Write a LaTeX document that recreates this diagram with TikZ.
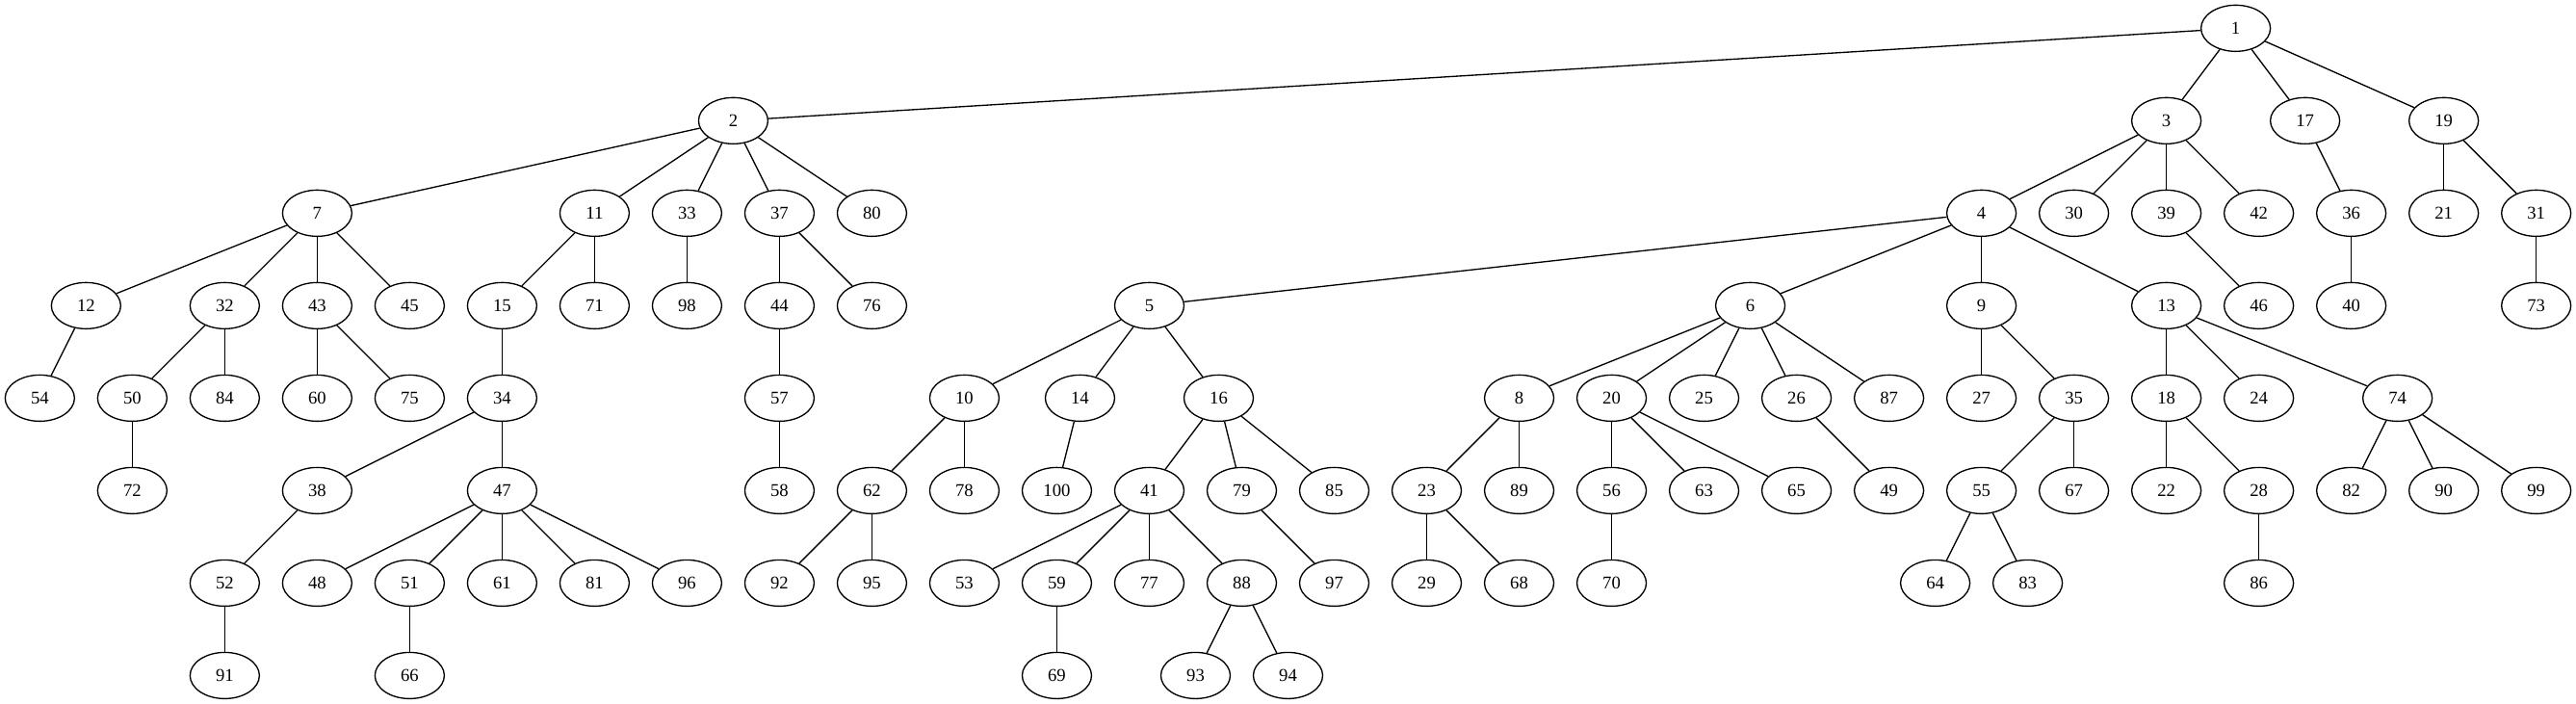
\documentclass[tikz,border=0pt]{standalone}
\usepackage{fontspec}
\setmainfont{Liberation Serif}
\usepackage{tikz}
\usetikzlibrary{arrows,shapes,positioning}
\usepackage{xcolor}
\definecolor{treeblack}{RGB}{0,0,0}
\tikzstyle{vertex} = [draw=treeblack, ellipse, line width=1bp, inner sep=0pt,
  minimum width=0.75in, minimum height=0.5in, font=\fontsize{14bp}{16bp}\selectfont]
\tikzstyle{edge} = [line width=1bp, color=treeblack]

\begin{document}
\begin{tikzpicture}[x=1in, y=1in]
\useasboundingbox (-0.4306,0.3056) rectangle (27.4306,-7.3056);

% vertices: label / column / rank
\foreach \n/\c/\r in {1/23.75/0,
  2/7.5/1, 3/23/1, 17/24.5/1, 19/26/1,
  7/3/2, 11/6/2, 33/7/2, 37/8/2, 80/9/2, 4/21/2, 30/22/2, 39/23/2, 42/24/2, 36/25/2, 21/26/2, 31/27/2,
  12/0.5/3, 32/2/3, 43/3/3, 45/4/3, 15/5/3, 71/6/3, 98/7/3, 44/8/3, 76/9/3, 5/12/3, 6/18.5/3, 9/21/3, 13/23/3, 46/24/3, 40/25/3, 73/27/3,
  54/0/4, 50/1/4, 84/2/4, 60/3/4, 75/4/4, 34/5/4, 57/8/4, 10/10/4, 14/11.25/4, 16/12.75/4, 8/16/4, 20/17/4, 25/18/4, 26/19/4, 87/20/4, 27/21/4, 35/22/4, 18/23/4, 24/24/4, 74/25.5/4,
  72/1/5, 38/3/5, 47/5/5, 58/8/5, 62/9/5, 78/10/5, 100/11/5, 41/12/5, 79/13/5, 85/14/5, 23/15/5, 89/16/5, 56/17/5, 63/18/5, 65/19/5, 49/20/5, 55/21/5, 67/22/5, 22/23/5, 28/24/5, 82/25/5, 90/26/5, 99/27/5,
  52/2/6, 48/3/6, 51/4/6, 61/5/6, 81/6/6, 96/7/6, 92/8/6, 95/9/6, 53/10/6, 59/11/6, 77/12/6, 88/13/6, 97/14/6, 29/15/6, 68/16/6, 70/17/6, 64/20.5/6, 83/21.5/6, 86/24/6,
  91/2/7, 66/4/7, 69/11/7, 93/12.5/7, 94/13.5/7}
  \node[vertex] (v\n) at (\c,-\r) {\n};

% edges: parent / child
\foreach \a/\b in {1/2, 1/3, 1/17, 1/19,
  2/7, 2/11, 2/33, 2/37, 2/80, 3/4, 3/30, 3/39, 3/42, 17/36, 19/21, 19/31,
  7/12, 7/32, 7/43, 7/45, 11/15, 11/71, 33/98, 37/44, 37/76,
  4/5, 4/6, 4/9, 4/13, 39/46, 36/40, 31/73,
  12/54, 32/50, 32/84, 43/60, 43/75, 15/34, 44/57,
  5/10, 5/14, 5/16, 6/8, 6/20, 6/25, 6/26, 6/87, 9/27, 9/35, 13/18, 13/24, 13/74,
  50/72, 34/38, 34/47, 57/58, 10/62, 10/78, 14/100, 16/41, 16/79, 16/85,
  8/23, 8/89, 20/56, 20/63, 20/65, 26/49, 35/55, 35/67, 18/22, 18/28, 74/82, 74/90, 74/99,
  38/52, 47/48, 47/51, 47/61, 47/81, 47/96, 62/92, 62/95, 41/53, 41/59, 41/77, 41/88,
  79/97, 23/29, 23/68, 56/70, 55/64, 55/83, 28/86,
  52/91, 51/66, 59/69, 88/93, 88/94}
  \draw[edge] (v\a) -- (v\b);
\end{tikzpicture}
\end{document}
